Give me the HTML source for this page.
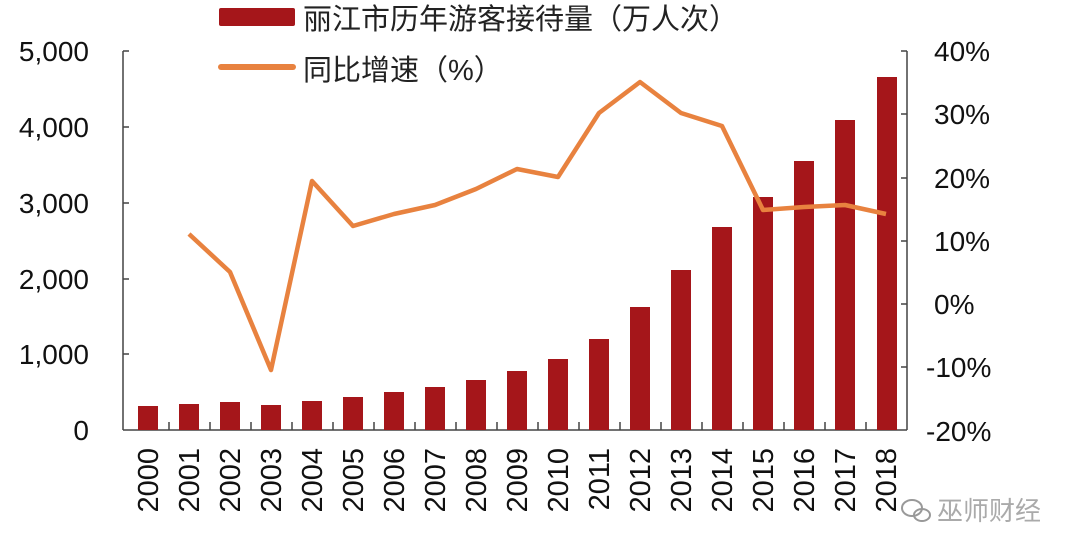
<!DOCTYPE html>
<html><head><meta charset="utf-8"><style>body{margin:0;background:#fff}svg{display:block}</style></head>
<body>
<svg width="1080" height="558" viewBox="0 0 1080 558" xmlns="http://www.w3.org/2000/svg" font-family="Liberation Sans, Noto Sans CJK SC, sans-serif">
<rect width="1080" height="558" fill="#fff"/>
<rect x="219" y="8" width="76" height="18" rx="2" fill="#a5161a"/>
<text x="303" y="29" font-size="29" fill="#222">丽江市历年游客接待量（万人次）</text>
<line x1="221" y1="67" x2="293" y2="67" stroke="#e8823f" stroke-width="6" stroke-linecap="round"/>
<text x="303" y="80" font-size="29" fill="#222">同比增速（%）</text>
<g stroke="#444" stroke-width="1.5" fill="none">
<line x1="123" y1="51" x2="123" y2="430"/>
<line x1="123" y1="430" x2="907" y2="430"/>
<line x1="907" y1="51" x2="907" y2="430"/>
<path d="M123 51h6M123 127h6M123 203h6M123 279h6M123 354h6"/>
<path d="M907 51h-6M907 114h-6M907 178h-6M907 241h-6M907 304h-6M907 367h-6"/>
<path d="M169 430v-8M210 430v-8M251 430v-8M292 430v-8M333 430v-8M374 430v-8M415 430v-8M456 430v-8M497 430v-8M538 430v-8M579 430v-8M620 430v-8M661 430v-8M702 430v-8M743 430v-8M784 430v-8M825 430v-8M866 430v-8"/>
</g>
<g font-size="28" fill="#111" text-anchor="end">
<text x="89" y="61">5,000</text><text x="89" y="137">4,000</text><text x="89" y="213">3,000</text>
<text x="89" y="289">2,000</text><text x="89" y="364">1,000</text><text x="89" y="440">0</text>
</g>
<g font-size="28" fill="#111">
<text x="934" y="61">40%</text><text x="934" y="124">30%</text><text x="934" y="188">20%</text>
<text x="934" y="251">10%</text><text x="934" y="314">0%</text><text x="926" y="377">-10%</text><text x="926" y="441">-20%</text>
</g>
<g fill="#a5161a">
<rect x="138" y="406" width="20" height="24"/>
<rect x="179" y="404" width="20" height="26"/>
<rect x="220" y="402" width="20" height="28"/>
<rect x="261" y="405" width="20" height="25"/>
<rect x="302" y="401" width="20" height="29"/>
<rect x="343" y="397" width="20" height="33"/>
<rect x="384" y="392" width="20" height="38"/>
<rect x="425" y="387" width="20" height="43"/>
<rect x="466" y="380" width="20" height="50"/>
<rect x="507" y="371" width="20" height="59"/>
<rect x="548" y="359" width="20" height="71"/>
<rect x="589" y="339" width="20" height="91"/>
<rect x="630" y="307" width="20" height="123"/>
<rect x="671" y="270" width="20" height="160"/>
<rect x="712" y="227" width="20" height="203"/>
<rect x="753" y="197" width="20" height="233"/>
<rect x="794" y="161" width="20" height="269"/>
<rect x="835" y="120" width="20" height="310"/>
<rect x="877" y="77" width="20" height="353"/>
</g>
<polyline fill="none" stroke="#e8823f" stroke-width="4.5" stroke-linejoin="round" points="189,234 230,272 271,370 312,181 353,226 394,214 435,205 476,189 517,169 558,177 599,113 640,82 681,113 722,126 763,210 804,207 845,205 886,214"/>
<g font-size="29" fill="#111" text-anchor="end">
<text transform="translate(158,448) rotate(-90)">2000</text>
<text transform="translate(199,448) rotate(-90)">2001</text>
<text transform="translate(240,448) rotate(-90)">2002</text>
<text transform="translate(281,448) rotate(-90)">2003</text>
<text transform="translate(322,448) rotate(-90)">2004</text>
<text transform="translate(363,448) rotate(-90)">2005</text>
<text transform="translate(404,448) rotate(-90)">2006</text>
<text transform="translate(445,448) rotate(-90)">2007</text>
<text transform="translate(486,448) rotate(-90)">2008</text>
<text transform="translate(527,448) rotate(-90)">2009</text>
<text transform="translate(568,448) rotate(-90)">2010</text>
<text transform="translate(609,448) rotate(-90)">2011</text>
<text transform="translate(650,448) rotate(-90)">2012</text>
<text transform="translate(691,448) rotate(-90)">2013</text>
<text transform="translate(732,448) rotate(-90)">2014</text>
<text transform="translate(773,448) rotate(-90)">2015</text>
<text transform="translate(814,448) rotate(-90)">2016</text>
<text transform="translate(855,448) rotate(-90)">2017</text>
<text transform="translate(896,448) rotate(-90)">2018</text>
</g>
<g fill="none" stroke="#999" stroke-width="2"><ellipse cx="912" cy="508" rx="10" ry="8"/><ellipse cx="922" cy="515" rx="8" ry="6"/></g>
<text x="937" y="520" font-size="26" fill="#aaa">巫师财经</text>
</svg>
</body></html>
